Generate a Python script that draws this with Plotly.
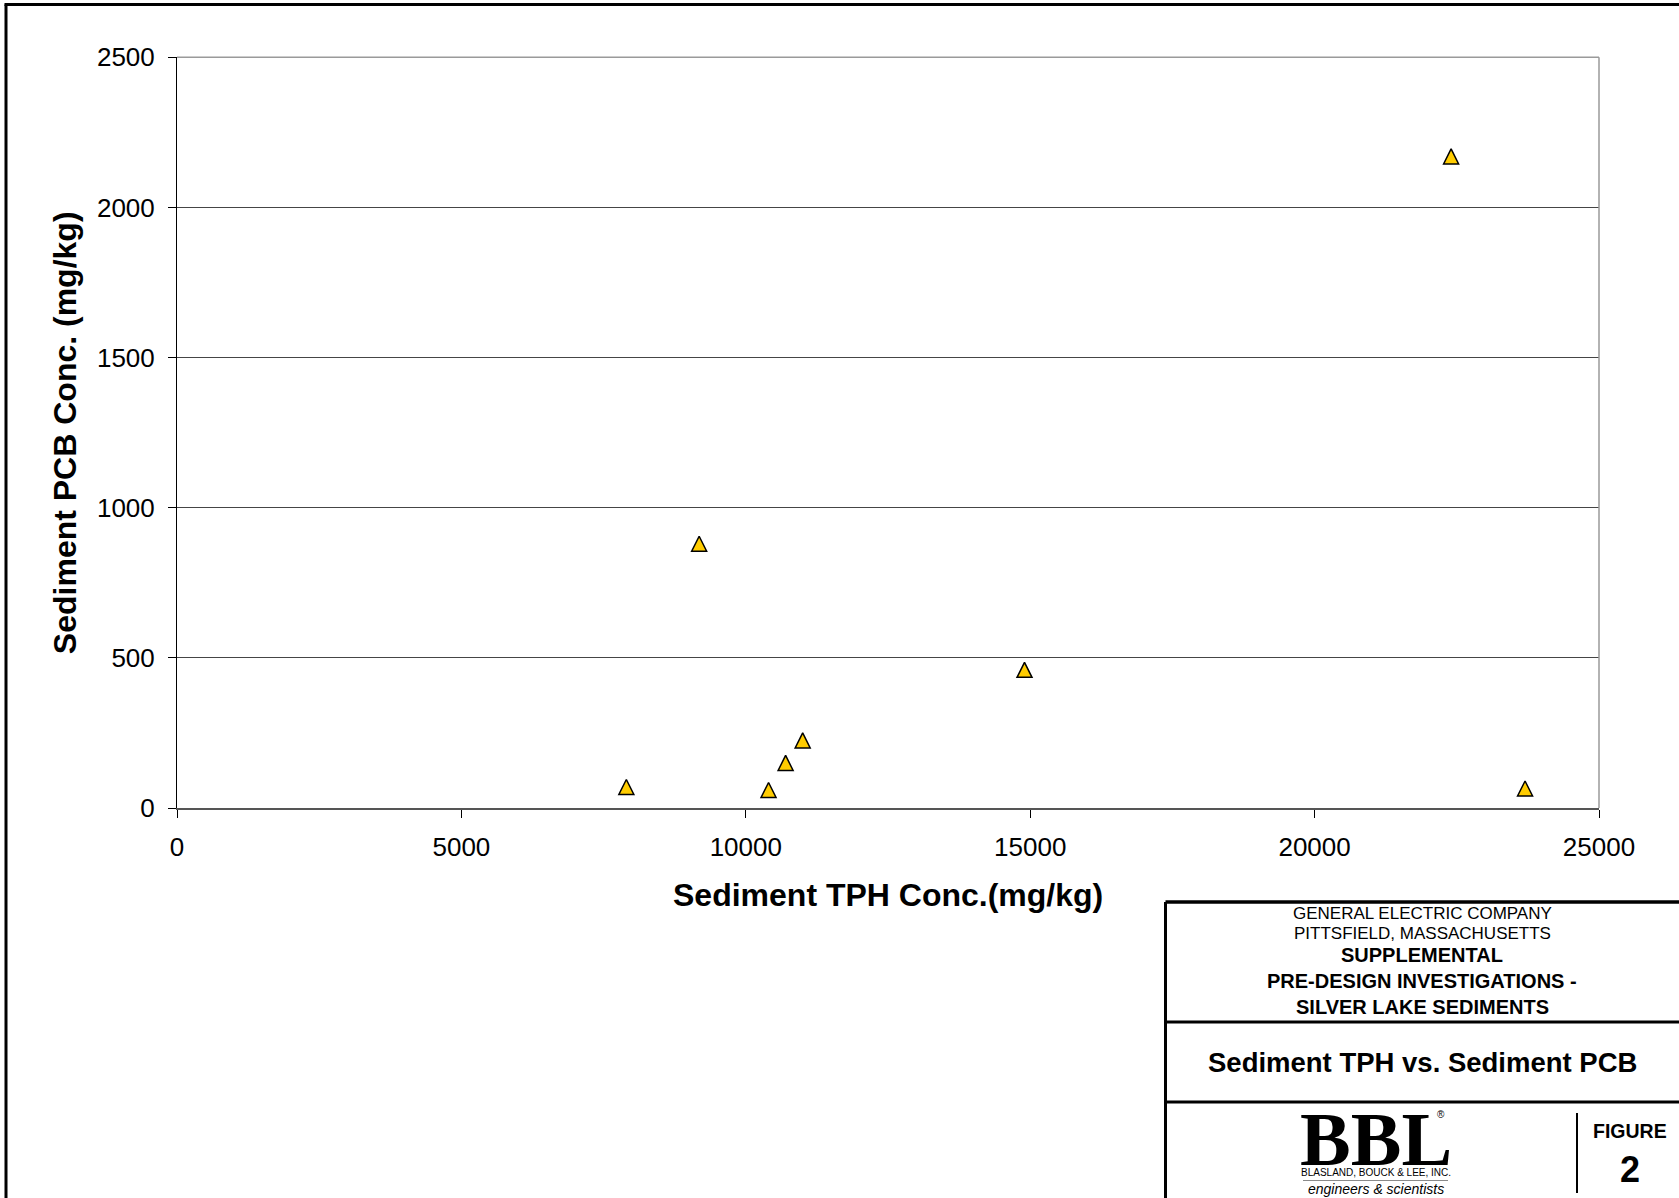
import plotly.graph_objects as go

# Page size in pixels
W, H = 1679, 1198

# Sediment sample results
tph_mg_kg = [7900, 9180, 10400, 10700, 11000, 14900, 22400, 23700]
pcb_mg_kg = [70, 880, 60, 150, 225, 460, 2170, 65]

x_range = [0, 25000]
y_range = [0, 2500]
x_ticks = [0, 5000, 10000, 15000, 20000, 25000]
y_ticks = [0, 500, 1000, 1500, 2000, 2500]

x_title = "Sediment TPH Conc.(mg/kg)"
y_title = "Sediment PCB Conc. (mg/kg)"

block_header = ["GENERAL ELECTRIC COMPANY", "PITTSFIELD, MASSACHUSETTS"]
block_project = ["SUPPLEMENTAL", "PRE-DESIGN INVESTIGATIONS -", "SILVER LAKE SEDIMENTS"]
figure_title = "Sediment TPH vs. Sediment PCB"
figure_label = "FIGURE"
figure_number = "2"
logo_text = "BBL"
logo_company = "BLASLAND, BOUCK & LEE, INC."
logo_tagline = "engineers & scientists"

SANS = "Liberation Sans, Arial, Helvetica, sans-serif"
SERIF = "Liberation Serif, Times New Roman, serif"
NARROW = "Liberation Sans Narrow, Arial Narrow, Liberation Sans, Arial, sans-serif"

# Plot area edges in page pixels
PLOT_L, PLOT_R, PLOT_T, PLOT_B = 177, 1599, 57.3, 808


def fx(x):
    return x / W


def fy(y):
    return 1 - y / H


# Triangle markers ("arrow-up" has its tip on the point). The markers sit on a
# hidden axis shifted by half the marker height so each triangle is centred on
# its value; the visible scale is an overlay with the true range.
MARKER = 15
units_per_px = (y_range[1] - y_range[0]) / (PLOT_B - PLOT_T)
shift = MARKER / 2 * units_per_px

fig = go.Figure()
fig.add_trace(go.Scatter(
    x=tph_mg_kg, y=pcb_mg_kg, mode="markers",
    marker=dict(symbol="arrow-up", size=MARKER, color="#FFCC00",
                line=dict(color="#000000", width=1.5)),
    showlegend=False, hoverinfo="x+y", cliponaxis=False,
))
# empty trace so the visible overlay axis gets its own subplot
fig.add_trace(go.Scatter(x=[], y=[], yaxis="y2", mode="markers",
                         showlegend=False, hoverinfo="skip"))

axis_font = dict(family=SANS, size=26, color="#000000")

fig.update_layout(
    width=W, height=H,
    margin=dict(l=0, r=0, t=0, b=0, autoexpand=False),
    paper_bgcolor="#FFFFFF", plot_bgcolor="#FFFFFF",
    xaxis=dict(
        domain=[fx(PLOT_L), fx(PLOT_R)], range=x_range,
        tickvals=x_ticks, ticktext=[str(v) for v in x_ticks],
        ticks="outside", ticklen=8, tickwidth=1, tickcolor="#000000",
        showline=True, linecolor="#555555", linewidth=2,
        showgrid=False, zeroline=False, tickfont=axis_font,
        ticklabelstandoff=7, fixedrange=True, automargin=False,
    ),
    yaxis=dict(
        domain=[fy(PLOT_B), fy(PLOT_T)],
        range=[y_range[0] - shift, y_range[1] - shift],
        visible=False, showgrid=False, zeroline=False,
        fixedrange=True, automargin=False,
    ),
    yaxis2=dict(
        overlaying="y", side="left", anchor="x", range=y_range,
        tickvals=y_ticks, ticktext=[str(v) for v in y_ticks],
        ticks="outside", ticklen=8, tickwidth=1, tickcolor="#000000",
        showline=True, linecolor="#000000", linewidth=1,
        showgrid=True, gridcolor="#454545", gridwidth=1,
        zeroline=False, tickfont=axis_font, ticklabelstandoff=8,
        fixedrange=True, automargin=False,
    ),
)

shapes = []


def hline(x0, x1, y, width, color="#000000"):
    shapes.append(dict(type="line", xref="paper", yref="paper",
                       x0=fx(x0), x1=fx(x1), y0=fy(y), y1=fy(y),
                       line=dict(color=color, width=width), layer="above"))


def vline(x, y0, y1, width, color="#000000"):
    shapes.append(dict(type="line", xref="paper", yref="paper",
                       x0=fx(x), x1=fx(x), y0=fy(y0), y1=fy(y1),
                       line=dict(color=color, width=width), layer="above"))


# plot frame: top and right edges
hline(PLOT_L, PLOT_R, PLOT_T, 1.5, "#9A9A9A")
vline(PLOT_R, PLOT_T, PLOT_B, 1.5, "#9A9A9A")

# sheet border
hline(4.5, W, 4.5, 3)
vline(6, 4.5, H, 3)

# title block
BX, BY = 1165.5, 902
hline(BX, W, BY, 3.5)
vline(BX, BY, H, 3)
hline(BX, W, 1022, 3)
hline(BX, W, 1102, 3)
vline(1577, 1113, 1193, 2)
hline(1303, 1448, 1180.5, 1, "#8A8A8A")

fig.update_layout(shapes=shapes)

annotations = []


def label(text, x, y, size, bold=False, family=SANS, angle=0, italic=False,
          color="#000000"):
    annotations.append(dict(
        text=text, x=fx(x), y=fy(y), xref="paper", yref="paper",
        xanchor="center", yanchor="middle", showarrow=False, textangle=angle,
        font=dict(family=family, size=size, color=color,
                  weight="bold" if bold else "normal",
                  style="italic" if italic else "normal"),
    ))


# axis titles
label(x_title, (PLOT_L + PLOT_R) / 2, 895, 32, bold=True)
label(y_title, 64.5, (PLOT_T + PLOT_B) / 2, 32, bold=True, angle=-90)

# title block text
CX = (BX + W) / 2
label(block_header[0], CX, 914, 17)
label(block_header[1], CX, 933.5, 17)
for text, y in zip(block_project, [955, 981, 1007]):
    label(text, CX, y, 20, bold=True)
label(figure_title, CX, 1062, 27.5, bold=True)
label(figure_label, 1630, 1131, 19.5, bold=True)
label(figure_number, 1630, 1169.5, 36, bold=True)

# company logo
label(logo_text, 1375.5, 1139, 76, bold=True, family=SERIF)
label("®", 1441, 1114, 10)
label(logo_company, 1375.5, 1172.5, 10, family=NARROW)
label(logo_tagline, 1375.5, 1189, 14, italic=True)

fig.update_layout(annotations=annotations)

fig.write_html("out.html", config={"displayModeBar": False})
